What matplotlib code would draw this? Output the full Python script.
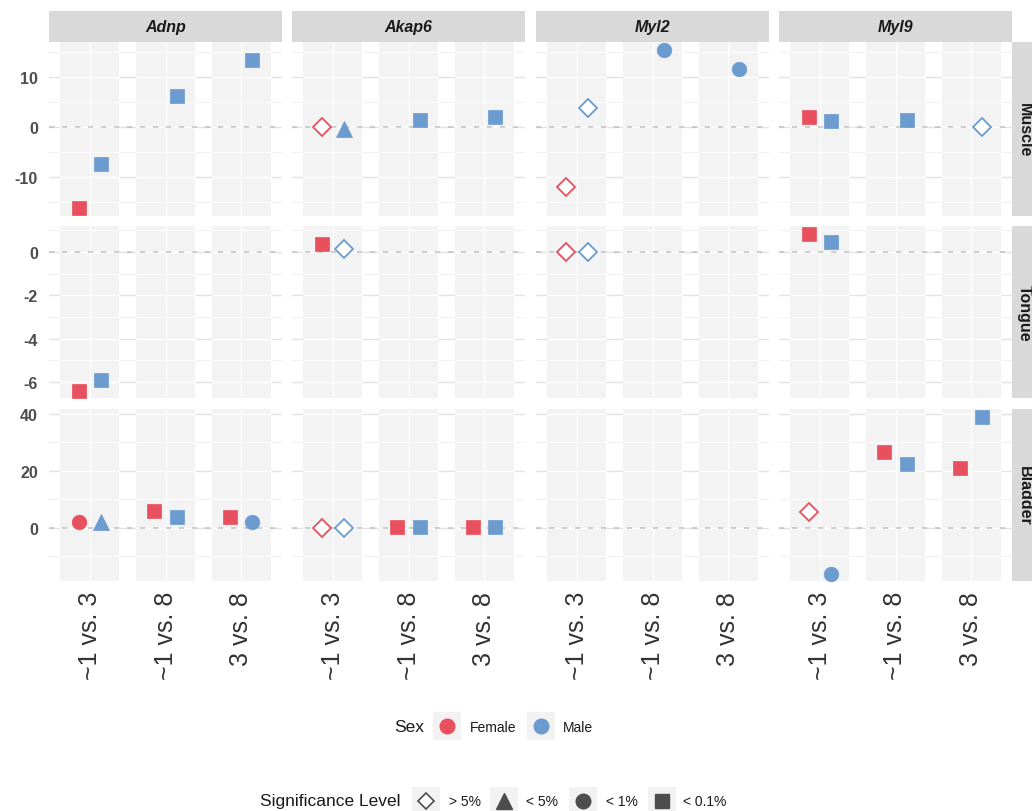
import numpy as np
import pandas as pd
import matplotlib
matplotlib.use("Agg")
import matplotlib.pyplot as plt
from matplotlib.patches import Rectangle

plt.rcParams['font.family'] = ['Liberation Sans', 'DejaVu Sans']
plt.rcParams['axes.unicode_minus'] = False

genes = ["Adnp", "Akap6", "Myl2", "Myl9"]
tissues = ["Muscle", "Tongue", "Bladder"]
comparisons = ["~1 vs. 3", "~1 vs. 8", "3 vs. 8"]
sexes = ["Female", "Male"]
sig_levels = ["> 5%", "< 5%", "< 1%", "< 0.1%"]

# one entry per point
gene = ["Adnp", "Adnp", "Adnp", "Adnp",
        "Akap6", "Akap6", "Akap6", "Akap6",
        "Myl2", "Myl2", "Myl2", "Myl2",
        "Myl9", "Myl9", "Myl9", "Myl9",
        "Adnp", "Adnp", "Akap6", "Akap6", "Myl2", "Myl2", "Myl9", "Myl9",
        "Adnp", "Adnp", "Adnp", "Adnp", "Adnp", "Adnp",
        "Akap6", "Akap6", "Akap6", "Akap6", "Akap6", "Akap6",
        "Myl9", "Myl9", "Myl9", "Myl9", "Myl9", "Myl9"]
tissue = ["Muscle"] * 16 + ["Tongue"] * 8 + ["Bladder"] * 18
comparison = ["~1 vs. 3", "~1 vs. 3", "~1 vs. 8", "3 vs. 8",
              "~1 vs. 3", "~1 vs. 3", "~1 vs. 8", "3 vs. 8",
              "~1 vs. 3", "~1 vs. 3", "~1 vs. 8", "3 vs. 8",
              "~1 vs. 3", "~1 vs. 3", "~1 vs. 8", "3 vs. 8",
              "~1 vs. 3", "~1 vs. 3", "~1 vs. 3", "~1 vs. 3",
              "~1 vs. 3", "~1 vs. 3", "~1 vs. 3", "~1 vs. 3",
              "~1 vs. 3", "~1 vs. 3", "~1 vs. 8", "~1 vs. 8", "3 vs. 8", "3 vs. 8",
              "~1 vs. 3", "~1 vs. 3", "~1 vs. 8", "~1 vs. 8", "3 vs. 8", "3 vs. 8",
              "~1 vs. 3", "~1 vs. 3", "~1 vs. 8", "~1 vs. 8", "3 vs. 8", "3 vs. 8"]
sex = ["Female", "Male", "Male", "Male",
       "Female", "Male", "Male", "Male",
       "Female", "Male", "Male", "Male",
       "Female", "Male", "Male", "Male",
       "Female", "Male", "Female", "Male", "Female", "Male", "Female", "Male",
       "Female", "Male", "Female", "Male", "Female", "Male",
       "Female", "Male", "Female", "Male", "Female", "Male",
       "Female", "Male", "Female", "Male", "Female", "Male"]
value = [-16.2, -7.4, 6.2, 13.4,
         0.0, -0.3, 1.4, 2.0,
         -12.0, 3.8, 15.4, 11.6,
         2.0, 1.2, 1.4, 0.1,
         -6.41, -5.9, 0.36, 0.13, 0.0, -0.01, 0.82, 0.47,
         2.2, 2.2, 6.1, 4.0, 4.0, 2.0,
         0.1, 0.1, 0.2, 0.2, 0.2, 0.2,
         5.6, -16.0, 26.6, 22.4, 21.0, 38.8]
significance = ["< 0.1%", "< 0.1%", "< 0.1%", "< 0.1%",
                "> 5%", "< 5%", "< 0.1%", "< 0.1%",
                "> 5%", "> 5%", "< 1%", "< 1%",
                "< 0.1%", "< 0.1%", "< 0.1%", "> 5%",
                "< 0.1%", "< 0.1%", "< 0.1%", "> 5%", "> 5%", "> 5%", "< 0.1%", "< 0.1%",
                "< 1%", "< 5%", "< 0.1%", "< 0.1%", "< 0.1%", "< 1%",
                "> 5%", "> 5%", "< 0.1%", "< 0.1%", "< 0.1%", "< 0.1%",
                "> 5%", "< 1%", "< 0.1%", "< 0.1%", "< 0.1%", "< 0.1%"]

df = pd.DataFrame({"gene": gene, "tissue": tissue, "comparison": comparison,
                   "sex": sex, "value": value, "sig": significance})

sex_colors = {"Female": "#e8505d", "Male": "#6b9bcf"}
sig_marker = {"> 5%": "D", "< 5%": "^", "< 1%": "o", "< 0.1%": "s"}
sig_size = {"> 5%": 9.3, "< 5%": 11, "< 1%": 10.5, "< 0.1%": 9.4}
dodge = {"Female": -0.15, "Male": 0.15}

ylims = {"Muscle": (-17.8, 17.0), "Tongue": (-6.74, 1.2), "Bladder": (-18.6, 41.75)}
major = {"Muscle": [-10, 0, 10], "Tongue": [-6, -4, -2, 0], "Bladder": [0, 20, 40]}
minor = {"Muscle": [-15, -5, 5, 15], "Tongue": [-5, -3, -1, 1], "Bladder": [-10, 10, 30]}

W, H = 1032, 812
fig = plt.figure(figsize=(W / 100, H / 100), dpi=100)


def add_px(x, y, w, h):
    return fig.add_axes([x / W, 1 - (y + h) / H, w / W, h / H])


col_left = [49, 292, 536, 779]
col_w = 233
row_top = [43, 227, 410]
row_h = [174, 172, 172]
band = 0.39

for r, t in enumerate(tissues):
    for c, g in enumerate(genes):
        ax = add_px(col_left[c], row_top[r], col_w, row_h[r])
        ax.set_xlim(-0.54, 2.54)
        ax.set_ylim(*ylims[t])
        for s in ax.spines.values():
            s.set_visible(False)

        for yv in major[t]:
            ax.axhline(yv, color="#e3e3e3", lw=1.0, zorder=0)
        for yv in minor[t]:
            ax.axhline(yv, color="#eeeeee", lw=0.6, zorder=0)
        for i in range(len(comparisons)):
            ax.axvspan(i - band, i + band, color="#f3f3f3", lw=0, zorder=0.5)
            ax.hlines(major[t], i - band, i + band, color="white", lw=1.0, zorder=0.6)
            ax.hlines(minor[t], i - band, i + band, color="white", lw=0.6, zorder=0.6)
            ax.axvline(i, color="white", lw=0.9, zorder=0.6)
        ax.axhline(0, color="#c2c2c2", lw=1.1, ls=(0, (3.5, 5)), zorder=0.8)

        sub = df[(df.gene == g) & (df.tissue == t)]
        for _, p in sub.iterrows():
            xi = comparisons.index(p.comparison) + dodge[p.sex]
            col = sex_colors[p.sex]
            if p.sig == "> 5%":
                ax.plot(xi, p.value, marker="D", ms=sig_size[p.sig], mfc="white",
                        mec=col, mew=1.3, ls="none", zorder=3)
            else:
                ax.plot(xi, p.value, marker=sig_marker[p.sig], ms=sig_size[p.sig],
                        mfc=col, mec=col, mew=0.5, ls="none", zorder=3)

        ax.set_yticks(major[t])
        ax.set_xticks(range(len(comparisons)))
        ax.tick_params(length=0)
        if c == 0:
            ax.set_yticklabels([f"{v:g}" for v in major[t]], fontsize=11.5,
                               fontweight="bold", color="#4d4d4d")
            ax.tick_params(axis="y", pad=8)
        else:
            ax.set_yticklabels([])
        if r == len(tissues) - 1:
            ax.set_xticklabels(comparisons, rotation=90, fontsize=18, color="#333333")
            ax.tick_params(axis="x", pad=7)
        else:
            ax.set_xticklabels([])

# top strips
for c, g in enumerate(genes):
    sax = add_px(col_left[c], 12, col_w, 31)
    sax.set_facecolor("#d9d9d9")
    sax.set_xticks([]); sax.set_yticks([])
    for s in sax.spines.values():
        s.set_visible(False)
    sax.text(0.5, 0.5, g, ha="center", va="center", fontsize=11.5,
             fontweight="bold", style="italic", color="#1a1a1a", transform=sax.transAxes)

# right strips (cut by the figure edge)
for r, t in enumerate(tissues):
    sax = add_px(1012, row_top[r], 30, row_h[r])
    sax.set_facecolor("#d9d9d9")
    sax.set_xticks([]); sax.set_yticks([])
    for s in sax.spines.values():
        s.set_visible(False)
    sax.text(12.5 / 30, 0.5, t, ha="center", va="center", rotation=-90, fontsize=11.5,
             fontweight="bold", color="#1a1a1a", transform=sax.transAxes)

# legends
lax = fig.add_axes([0, 0, 1, 1])
lax.set_xlim(0, W)
lax.set_ylim(H, 0)
lax.axis("off")

lax.text(394, 728, "Sex", fontsize=12.5, va="center", ha="left", color="#1a1a1a")
for bx, lx, s in zip([433, 527], [470, 563], sexes):
    lax.add_patch(Rectangle((bx, 713), 28, 28, fc="#f2f2f2", ec="none"))
    lax.plot(bx + 14, 727, marker="o", ms=10.5, color=sex_colors[s], ls="none")
    lax.text(lx, 728, s, fontsize=10, va="center", ha="left", color="#1a1a1a")

lax.text(260, 802, "Significance Level", fontsize=12.5, va="center", ha="left", color="#1a1a1a")
for bx, lx, lvl in zip([412, 490, 569, 648], [449, 526, 606, 683], sig_levels):
    lax.add_patch(Rectangle((bx, 788), 28, 28, fc="#f2f2f2", ec="none"))
    if lvl == "> 5%":
        lax.plot(bx + 14, 802, marker="D", ms=sig_size[lvl] - 1, mfc="white",
                 mec="#4d4d4d", mew=1.2, ls="none")
    else:
        lax.plot(bx + 14, 802, marker=sig_marker[lvl], ms=sig_size[lvl],
                 color="#4d4d4d", ls="none")
    lax.text(lx, 802, lvl, fontsize=10, va="center", ha="left", color="#1a1a1a")

fig.savefig("out.png", dpi=100)
